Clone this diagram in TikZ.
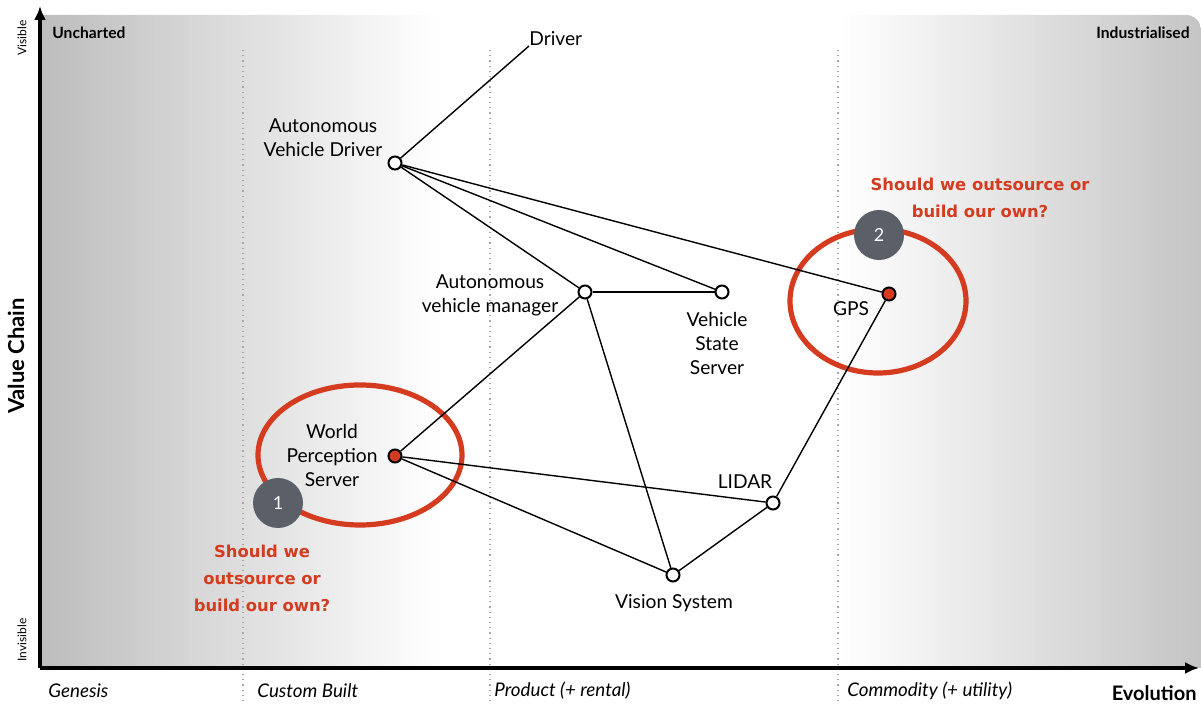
\documentclass[tikz,border=0pt]{standalone}
\usepackage{fontspec}
\setmainfont{Lato}
\newfontfamily\handfont{DejaVu Sans}
\usepackage{tikz}
\usetikzlibrary{arrows.meta}
\definecolor{mapred}{HTML}{D43B1F}
\definecolor{badgegray}{HTML}{5B6068}
\tikzset{
  comp/.style={circle,draw=black,line width=1pt,fill=white,minimum size=6.5pt,inner sep=0pt},
  comphot/.style={comp,fill=mapred},
  lbl/.style={font=\fontsize{9.6}{12}\selectfont,align=center,inner sep=0pt},
  note/.style={font=\handfont\bfseries\fontsize{8.2}{13.5}\selectfont,text=mapred,align=center,inner sep=0pt},
  stage/.style={font=\itshape\fontsize{9.4}{10}\selectfont,anchor=west,inner sep=0pt},
  badge/.style={circle,fill=badgegray,minimum size=25pt,inner sep=0pt,text=white,font=\fontsize{9}{10}\selectfont},
  link/.style={line width=0.7pt},
  ring/.style={draw=mapred,line width=2.6pt}
}
\begin{document}
\begin{tikzpicture}[x=0.5pt,y=-0.5pt]
\useasboundingbox (0,0) rectangle (1201,705);
% background
\begin{scope}
  \clip (40,668) -- (40,15) -- (1186,15) arc(-90:0:15) -- (1201,668) -- cycle;
  \fill[white] (40,15) rectangle (1201,668);
  \shade[left color=black!26,right color=white] (40,15) rectangle (440,668);
  \shade[left color=white,right color=black!23] (840,15) rectangle (1201,668);
\end{scope}
\foreach \x in {243,490,838}
  \draw[black!35,dotted,line width=0.6pt] (\x,50) -- (\x,705);
% axes
\coordinate (o) at (40,668);
\coordinate (ytop) at (40,6);
\coordinate (xend) at (1199,668);
\draw[line width=1.6pt,-{Latex[length=7pt,width=6pt]}] (o) -- (ytop);
\draw[line width=1.6pt,-{Latex[length=7pt,width=6pt]}] (o) -- (xend);
\node[font=\bfseries\fontsize{7.8}{9}\selectfont,anchor=west,inner sep=0pt] at (52,33) (unch) {Uncharted};
\node[font=\bfseries\fontsize{7.8}{9}\selectfont,anchor=east,inner sep=0pt] at (1190,33) (indu) {Industrialised};
\node[font=\fontsize{6}{8}\selectfont,rotate=90,inner sep=0pt] at (22,38) (vis) {Visible};
\node[font=\fontsize{6}{8}\selectfont,rotate=90,inner sep=0pt] at (22,640) (invis) {Invisible};
\node[font=\bfseries\fontsize{11}{12}\selectfont,rotate=90,inner sep=0pt] at (16,356) (vc) {Value Chain};
\node[stage] at (48,691) (gen) {Genesis};
\node[stage] at (257,691) (cust) {Custom Built};
\node[stage] at (494,691) (prod) {Product (+ rental)};
\node[stage] at (847,691) (comm) {Commodity (+ utility)};
\node[font=\bfseries\fontsize{10}{11}\selectfont,anchor=east,inner sep=0pt] at (1197,693) (evo) {Evolution};
% rings
\draw[ring] (360,455) ellipse (102 and 70);
\draw[ring] (878,301) ellipse (88 and 72);
% components
\node[lbl,anchor=south west] at (529,46) (drv) {Driver};
\node[comp] at (395,163) (avd) {};
\node[comp] at (585,292) (avm) {};
\node[comp] at (722,292) (vss) {};
\node[comphot] at (889,294) (gps) {};
\node[comphot] at (395,456) (wps) {};
\node[comp] at (773,503) (lidar) {};
\node[comp] at (673,575) (vsys) {};
\node[lbl] at (323,138) (avdl) {Autonomous\\Vehicle Driver};
\node[lbl] at (490,295) (avml) {Autonomous\\vehicle manager};
\node[lbl] at (717,344) (vssl) {Vehicle\\State\\Server};
\node[lbl] at (851,309) (gpsl) {GPS};
\node[lbl] at (332,456) (wpsl) {World\\Perception\\Server};
\node[lbl] at (745,482) (lidarl) {LIDAR};
\node[lbl] at (674,603) (vsysl) {Vision System};
% links
\draw[link] (avd) -- (drv.south west);
\draw[link] (avd) -- (avm);
\draw[link] (avd) -- (vss);
\draw[link] (avd) -- (gps);
\draw[link] (avm) -- (vss);
\draw[link] (avm) -- (wps);
\draw[link] (avm) -- (vsys);
\draw[link] (wps) -- (lidar);
\draw[link] (wps) -- (vsys);
\draw[link] (vsys) -- (lidar);
\draw[link] (lidar) -- (gps);
% questions
\node[badge] at (278,503) (b1) {1};
\node[badge] at (879,235) (b2) {2};
\node[note] at (262,578) (q1) {Should we\\outsource or\\build our own?};
\node[note] at (980,198) (q2) {Should we outsource or\\build our own?};
\end{tikzpicture}
\end{document}
